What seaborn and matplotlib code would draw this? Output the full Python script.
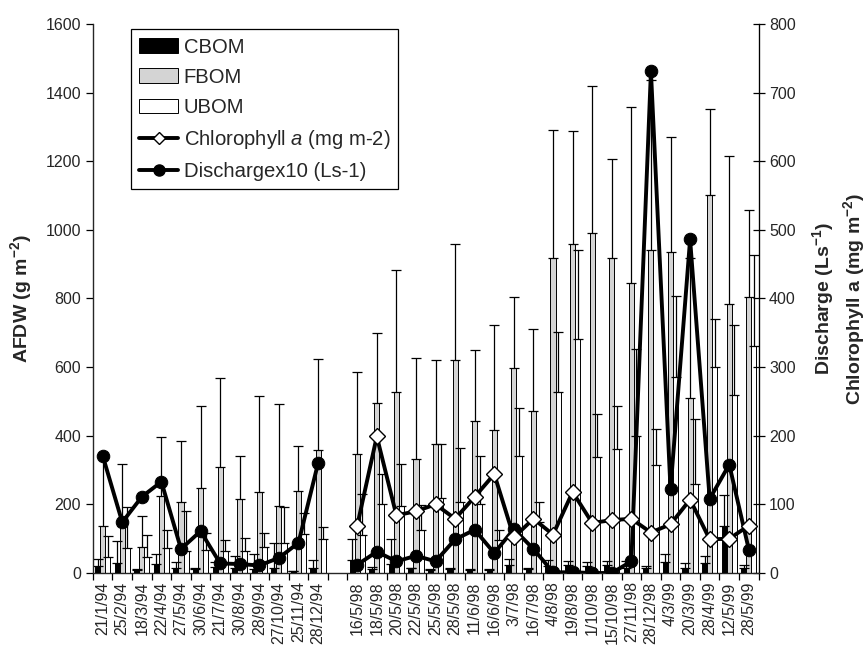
import numpy as np
import pandas as pd
import matplotlib
matplotlib.use('Agg')
import matplotlib.pyplot as plt
import seaborn as sns
from matplotlib import patches as mpatches
from matplotlib.lines import Line2D

nan = np.nan

#DATA
dates = ['21/1/94', '25/2/94', '18/3/94', '22/4/94', '27/5/94', '30/6/94', '21/7/94', '30/8/94',
         '28/9/94', '27/10/94', '25/11/94', '28/12/94', '',
         '16/5/98', '18/5/98', '20/5/98', '22/5/98', '25/5/98', '28/5/98', '11/6/98', '16/6/98',
         '3/7/98', '16/7/98', '4/8/98', '19/8/98', '1/10/98', '15/10/98', '27/11/98', '28/12/98',
         '4/3/99', '20/3/99', '28/4/99', '12/5/99', '28/5/99']

cbom = [19, 30, 8, 27, 15, 13, 18, 15, 12, 14, 6, 15, nan,
        37, 13, 25, 15, 10, 13, 10, 10, 22, 13, 20, 22, 19, 22, 15, 14, 31, 15, 28, 138, 16]
cbom_sd = [23, 63, 5, 29, 17, 2, 14, 34, 44, 73, 1, 22, nan,
           63, 4, 75, 1, 1, 1, 2, 2, 20, 2, 17, 14, 13, 14, 20, 5, 24, 15, 21, 90, 6]

fbom = [136, 136, 76, 223, 208, 248, 309, 216, 235, 196, 238, 357, nan,
        346, 496, 526, 333, 375, 620, 443, 416, 597, 472, 917, 958, 992, 917, 845, 942, 934, 510, 1100, 785, 804]
fbom_sd = [207, 181, 89, 173, 176, 238, 259, 124, 280, 296, 131, 268, nan,
           240, 203, 356, 294, 245, 338, 207, 308, 207, 238, 375, 331, 428, 289, 514, 494, 337, 408, 252, 429, 254]

ubom = [47, 73, 47, 73, 65, 68, 65, 65, 76, 87, 114, 99, nan,
        110, 202, 194, 124, 219, 207, 200, 97, 342, 150, 528, 683, 338, 360, 400, 316, 570, 259, 600, 518, 661]
ubom_sd = [60, 119, 63, 53, 116, 50, 30, 37, 42, 105, 61, 34, nan,
           121, 86, 125, 73, 156, 157, 142, 29, 139, 56, 175, 259, 124, 128, 254, 105, 237, 190, 140, 206, 267]

chlorophyll = [nan] * 13 + [69, 199, 84, 90, 100, 79, 111, 144, 52, 79, 56, 118, 73, 77, 79, 59, 71, 107, 49, 50, 69]
discharge = [171, 74, 111, 133, 35, 61, 14, 13, 11, 22, 44, 160, nan,
             12, 31, 17, 25, 17, 49, 63, 29, 64, 35, 1, 1, 0, 0, 17, 731, 122, 486, 108, 158, 34]

components = ['CBOM', 'FBOM', 'UBOM']
colors_bom = {'CBOM': 'black', 'FBOM': '#d4d4d4', 'UBOM': 'white'}

#Long format table for seaborn
bars = pd.DataFrame({'date': dates * 3,
                     'component': np.repeat(components, len(dates)),
                     'afdw': cbom + fbom + ubom,
                     'sd': cbom_sd + fbom_sd + ubom_sd})

sns.set_style('ticks')
plt.rcParams['font.family'] = ['Liberation Sans', 'DejaVu Sans']
plt.rcParams['mathtext.fontset'] = 'custom'
plt.rcParams['mathtext.rm'] = 'Liberation Sans'
plt.rcParams['mathtext.it'] = 'Liberation Sans:italic'
plt.rcParams['mathtext.bf'] = 'Liberation Sans:bold'

fig, ax = plt.subplots(figsize=(8.68, 6.46), dpi=100)
fig.subplots_adjust(left=0.107, right=0.874, top=0.963, bottom=0.113)

width = 0.78
sns.barplot(data=bars, x='date', y='afdw', hue='component', order=dates, hue_order=components,
            palette=colors_bom, edgecolor='black', linewidth=0.7, width=width,
            errorbar=None, legend=False, ax=ax)

#Error bars (upper only) placed on the bars drawn by seaborn
sd_lookup = bars.set_index(['date', 'component'])['sd']
xs, ys, es = [], [], []
for p in ax.patches:
    h = p.get_height()
    if np.isnan(h):
        continue
    xc = p.get_x() + p.get_width() / 2
    cat = int(round(xc))
    k = int(round((xc - cat) / (width / 3))) + 1
    xs.append(xc)
    ys.append(h)
    es.append(sd_lookup[(dates[cat], components[k])])
ax.errorbar(xs, ys, yerr=[np.zeros(len(es)), es], fmt='none', ecolor='black',
            elinewidth=0.9, capsize=3.5, capthick=0.9, zorder=3)

ax.set_ylim(0, 1600)
ax.set_yticks(range(0, 1601, 200))
ax.set_xlim(-0.5, len(dates) - 0.5)
ax.set_xticks(range(len(dates)))
ax.set_xticklabels(dates, rotation=90, fontsize=11.5)
ax.set_xticks(np.arange(-0.5, len(dates)), minor=True)
ax.tick_params(axis='x', which='major', length=0, pad=6)
ax.tick_params(axis='x', which='minor', length=5, width=0.9, direction='out', color='black')
ax.tick_params(axis='y', length=5, width=0.9, direction='out', labelsize=11.5, color='black')
ax.set_xlabel('')
ax.set_ylabel('AFDW (g m$^{\\mathbf{-2}}$)', fontsize=14, fontweight='bold', labelpad=8)
for s in ['left', 'bottom']:
    ax.spines[s].set_linewidth(0.9)
    ax.spines[s].set_color('black')
ax.spines['top'].set_visible(False)

#Secondary axis: chlorophyll and discharge
ax2 = ax.twinx()
pos = np.arange(len(dates))
lines = pd.DataFrame({'pos': pos, 'chl': chlorophyll, 'discharge': discharge,
                      'period': ['1994'] * 13 + ['1998'] * 21})
for period, d in lines.groupby('period'):
    d = d.dropna(subset=['discharge'])
    sns.lineplot(data=d, x='pos', y='discharge', ax=ax2, color='black', lw=2.8,
                 marker='o', markersize=9, markerfacecolor='black', markeredgecolor='black', zorder=4)
d = lines.dropna(subset=['chl'])
sns.lineplot(data=d, x='pos', y='chl', ax=ax2, color='black', lw=2.8,
             marker='D', markersize=8, markerfacecolor='white', markeredgecolor='black',
             markeredgewidth=1, zorder=5)

ax2.set_ylim(0, 800)
ax2.set_yticks(range(0, 801, 100))
ax2.set_xlim(-0.5, len(dates) - 0.5)
ax2.tick_params(axis='y', length=8, width=0.9, direction='inout', labelsize=11.5, color='black')
ax2.set_ylabel('Discharge (Ls$^{\\mathbf{-1}}$)\nChlorophyll a (mg m$^{\\mathbf{-2}}$)',
               fontsize=14, fontweight='bold', labelpad=10, linespacing=1.3)
ax2.set_xlabel('')
ax2.spines['right'].set_linewidth(0.9)
ax2.spines['right'].set_color('black')
ax2.spines['top'].set_visible(False)

###LEGEND###
handles = [mpatches.Patch(facecolor=colors_bom[c], edgecolor='black', linewidth=0.7, label=c) for c in components]
handles.append(Line2D([], [], color='black', lw=2.8, marker='D', markersize=6,
                      markerfacecolor='white', markeredgecolor='black', label='Chlorophyll $a$ (mg m-2)'))
handles.append(Line2D([], [], color='black', lw=2.8, marker='o', markersize=8,
                      markerfacecolor='black', label='Dischargex10 (Ls-1)'))
leg = ax2.legend(handles=handles, loc='upper left', bbox_to_anchor=(0.057, 0.99), borderaxespad=0,
                 fontsize=14.6, frameon=True, fancybox=False, edgecolor='black', framealpha=1,
                 handlelength=1.95, handletextpad=0.25, labelspacing=0.55, borderpad=0.4)
leg.get_frame().set_linewidth(0.9)

plt.savefig('out.png', dpi=100)
